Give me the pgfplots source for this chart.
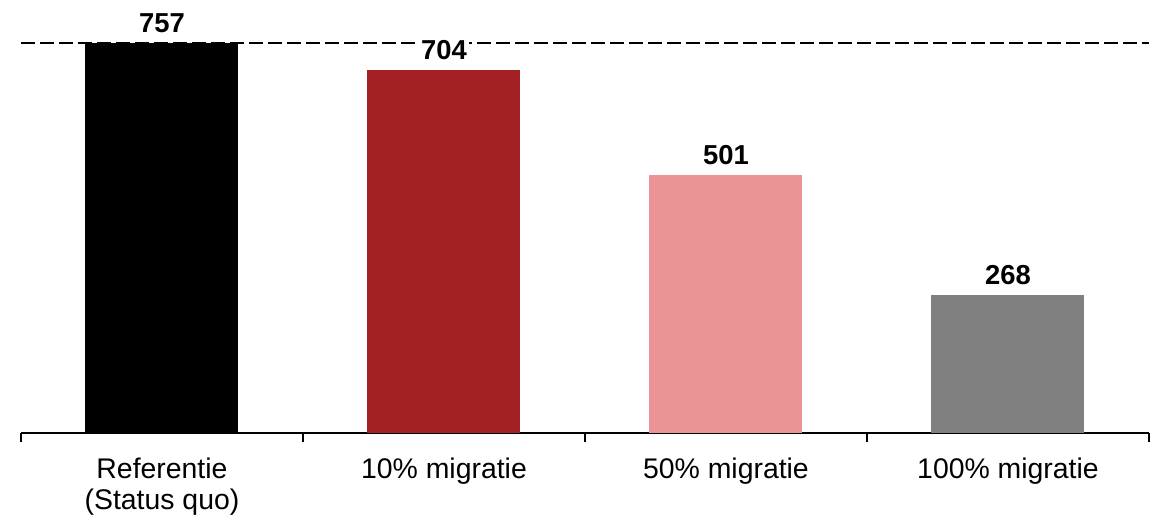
\documentclass[border=0pt]{standalone}
\usepackage{fontspec}
\setmainfont{Liberation Sans}
\usepackage{pgfplots}
\pgfplotsset{compat=1.18}
\definecolor{c1}{HTML}{000000}
\definecolor{c2}{HTML}{A32024}
\definecolor{c3}{HTML}{EA9496}
\definecolor{c4}{HTML}{808080}
\begin{document}
\begin{tikzpicture}[x=1bp,y=1bp]
\begin{axis}[
  scale only axis,
  width=1128bp, height=412bp,
  xmin=-0.5, xmax=3.5, ymin=0, ymax=800,
  axis x line=bottom, axis y line=none,
  axis line style={-, line width=1.5bp},
  xtick={0,1,2,3},
  xticklabels={{Referentie\\(Status quo)},{10\% migratie},{50\% migratie},{100\% migratie}},
  major tick length=0pt,
  minor xtick={-0.5,0.5,1.5,2.5,3.5},
  minor tick length=9bp,
  tick align=outside,
  minor x tick style={draw=black, line width=1.5bp},
  xticklabel style={font=\fontsize{28.5}{32}\selectfont, align=center, yshift=-21bp, anchor=north},
  /pgf/number format/assume math mode=true,
  ybar, bar width=153bp, bar shift=0pt,
  clip=false,
  nodes near coords,
  every node near coord/.append style={font=\fontsize{27.5}{32}\selectfont\bfseries, fill=white, inner sep=2bp, yshift=8bp},
]
\addplot[ybar=false, sharp plot, black, line width=2bp, dash pattern=on 14bp off 5bp, nodes near coords={}, forget plot] coordinates {(-0.5,757) (3.5,757)};
\addplot[fill=c1, draw=none] coordinates {(0,757)};
\addplot[fill=c2, draw=none] coordinates {(1,704)};
\addplot[fill=c3, draw=none] coordinates {(2,501)};
\addplot[fill=c4, draw=none] coordinates {(3,268)};
\end{axis}
\pgfresetboundingbox
\useasboundingbox (-21bp,-89bp) rectangle (1139bp,433bp);
\end{tikzpicture}
\end{document}
